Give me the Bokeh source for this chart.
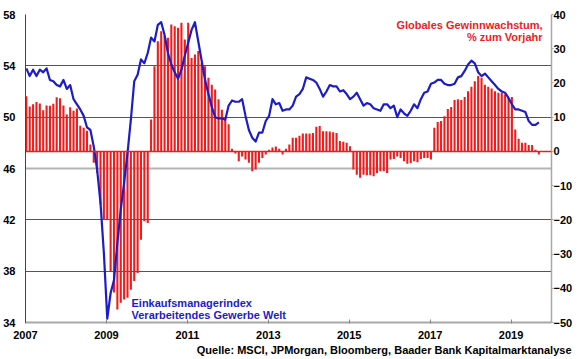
from bokeh.plotting import figure
from bokeh.models import Range1d, LinearAxis, FixedTicker, Span, Label, Title
from bokeh.embed import file_html
from bokeh.resources import INLINE

start_year = 2007
year_ticks = [2007, 2009, 2011, 2013, 2015, 2017, 2019]
pmi_ticks = [34, 38, 42, 46, 50, 54, 58]
growth_ticks = [-50, -40, -30, -20, -10, 0, 10, 20, 30, 40]

# Einkaufsmanagerindex (monthly, from Jan 2007)
pmi = [
    53.8, 53.2, 53.7, 53.2, 53.7, 53.5, 53.8, 52.9, 52.8, 52.5, 52.4, 52.9,
    52.2, 52.5, 51.4, 51.0, 50.6, 50.1, 49.2, 49.0, 47.7, 45.9, 43.3, 39.4,
    34.3, 36.3, 37.3, 40.2, 42.8, 44.9, 47.2, 49.8, 52.8, 53.3, 54.5, 54.2,
    55.0, 56.2, 55.9, 57.2, 57.4, 56.4, 55.0, 54.1, 53.5, 53.0, 53.7, 54.8,
    55.8, 56.8, 57.4, 55.9, 54.4, 52.9, 51.8, 50.8, 50.0, 49.9, 49.9, 49.8,
    50.9, 51.3, 51.2, 51.2, 51.4, 50.1, 49.0, 48.4, 48.1, 48.8, 48.8, 49.7,
    50.1, 51.4, 51.0, 51.1, 50.5, 50.6, 50.6, 50.9, 51.6, 51.8, 52.2, 53.1,
    53.0, 52.9, 52.7, 52.2, 51.6, 52.0, 52.5, 52.4, 52.4, 52.0, 52.1, 51.8,
    51.4, 51.6, 51.9, 51.4, 50.9, 51.1, 51.0, 50.7, 50.6, 50.5, 51.0, 51.0,
    50.7, 50.9, 50.0, 50.6, 50.3, 50.1, 50.5, 51.0, 50.7, 51.4, 51.9, 52.0,
    52.6, 52.7, 52.9, 52.9, 52.6, 52.5, 52.5, 52.6, 53.1, 53.2, 53.6, 54.1,
    54.4, 54.2, 53.5, 53.2, 53.4, 53.1, 52.8, 52.5, 52.2, 52.0, 51.9, 51.5,
    51.0, 50.6, 50.6, 50.5, 50.4, 49.7, 49.4, 49.4, 49.6,
]

# Globales Gewinnwachstum, % zum Vorjahr (monthly, from Jan 2007)
earnings = [
    16.1, 13.1, 13.8, 14.4, 14.0, 12.0, 13.4, 13.3, 13.9, 15.8, 15.5, 13.4,
    10.8, 12.9, 11.9, 12.5, 7.5, 6.9, 6.0, 2.0,
    -3.3, -6.3, -15.5, -19.9, -19.9, -35.0, -41.2, -46.2, -44.2, -43.3, -42.8, -40.4,
    -37.9, -35.5, -25.8, -20.4, -20.9,
    9.3, 24.9, 32.2, 35.1, 33.7, 33.2, 37.1, 36.6, 36.1, 37.6, 32.7, 37.6,
    27.3, 28.3, 29.3, 25.9, 24.9, 21.5, 19.5, 18.1, 15.2, 12.2, 9.3, 7.9,
    0.8, -0.6, -2.9, -1.5, -2.4, -3.3, -5.8, -5.3, -3.3, -1.9, -0.9, 0.5,
    1.1, 1.4, 0.8, -0.9, 0.8, 2.0, 4.0, 4.0, 4.6, 5.2, 5.2, 5.2,
    5.4, 7.2, 7.4, 5.9, 5.9, 5.8, 5.6, 5.4, 3.0, 2.8, 2.5, 1.5,
    -5.3, -6.8, -7.7, -6.8, -7.0, -7.0, -7.3, -6.3, -5.8, -5.8, -6.3, -2.4,
    -2.2, -1.5, -1.9, -2.9, -3.6, -3.4, -2.9, -3.2, -2.2, -1.9, -1.9, -2.4,
    6.9, 8.6, 8.9, 10.3, 12.4, 13.0, 15.0, 15.2, 15.0, 15.9, 17.6, 18.9,
    20.5, 22.0, 21.5, 19.5, 18.9, 18.4, 17.6, 17.1, 17.1, 16.7, 15.6, 15.9,
    6.4, 3.7, 2.5, 2.5, 1.9, 1.9, 0.5, -0.9,
]

source_text = "Quelle: MSCI, JPMorgan, Bloomberg, Baader Bank Kapitalmarktanalyse"

x_pmi = [start_year + (i + 0.25) / 12 for i in range(len(pmi))]
x_earn = [start_year + (i + 0.25) / 12 for i in range(len(earnings))]

FONT = "Liberation Sans"
RED = "#ee1c1c"
BLUE = "#1c1cc8"

p = figure(width=578, height=357, x_range=Range1d(2007, 2020), y_range=Range1d(34, 58),
           output_backend="svg", toolbar_location=None,
           min_border_left=25, min_border_right=27, min_border_top=14, min_border_bottom=35)
p.extra_y_ranges = {"growth": Range1d(-50, 40)}
p.outline_line_color = None
p.background_fill_color = "white"

# grid
p.xgrid.visible = False
p.ygrid.ticker = FixedTicker(ticks=pmi_ticks)
p.ygrid.grid_line_color = "#555555"
p.ygrid.grid_line_width = 1

span46 = Span(location=46, dimension="width", line_color="#b4b4b4", line_width=2, level="underlay")
p.add_layout(span46)

# bars
p.vbar(x=x_earn, top=earnings, bottom=0, width=0.62 / 12, y_range_name="growth",
       fill_color=RED, line_color=None)
zero = Span(location=0, dimension="width", line_color=RED, line_width=1.5, y_range_name="growth")
p.add_layout(zero)

# line
p.line(x_pmi, pmi, line_color=BLUE, line_width=2.2, line_join="round")

# axes
xa = p.xaxis[0]
xa.ticker = FixedTicker(ticks=year_ticks)
xa.axis_line_color = "#a8a8a8"
xa.axis_line_width = 2
xa.major_tick_in = 3
xa.major_tick_out = 1
xa.major_tick_line_color = "#888888"
xa.minor_tick_line_color = None
xa.major_label_standoff = 7

ya = p.yaxis[0]
ya.ticker = FixedTicker(ticks=pmi_ticks)
ya.axis_line_color = "#444444"
ya.major_tick_in = 0
ya.major_tick_out = 0
ya.minor_tick_line_color = None
ya.major_label_standoff = 10

ra = LinearAxis(y_range_name="growth", ticker=FixedTicker(ticks=growth_ticks))
ra.axis_line_color = "#a8a8a8"
ra.axis_line_width = 1.5
ra.major_tick_in = 0
ra.major_tick_out = 2
ra.major_tick_line_color = "#a8a8a8"
ra.minor_tick_line_color = None
ra.major_label_standoff = 0
p.add_layout(ra, "right")

for ax in (xa, ya, ra):
    ax.major_label_text_font = FONT
    ax.major_label_text_font_style = "bold"
    ax.major_label_text_font_size = "11px"
    ax.major_label_text_color = "black"

# source line below the axis
src = Title(text=source_text, align="right", offset=-20, standoff=0,
            text_font=FONT, text_font_style="bold", text_font_size="11px", text_color="black")
p.add_layout(src, "below")

# texts
def add_text(x, y, text, color, align, size="11px"):
    p.add_layout(Label(x=x, y=y, x_units="screen", y_units="screen", text=text,
                       text_align=align, text_baseline="middle", text_font=FONT,
                       text_font_style="bold", text_font_size=size, text_color=color))

add_text(517, 298, "Globales Gewinnwachstum,", RED, "right")
add_text(517, 286, "% zum Vorjahr", RED, "right")
add_text(106, 20, "Einkaufsmanagerindex", BLUE, "left")
add_text(106, 8, "Verarbeitendes Gewerbe Welt", BLUE, "left")

open("out.html", "w").write(file_html(p, INLINE))
